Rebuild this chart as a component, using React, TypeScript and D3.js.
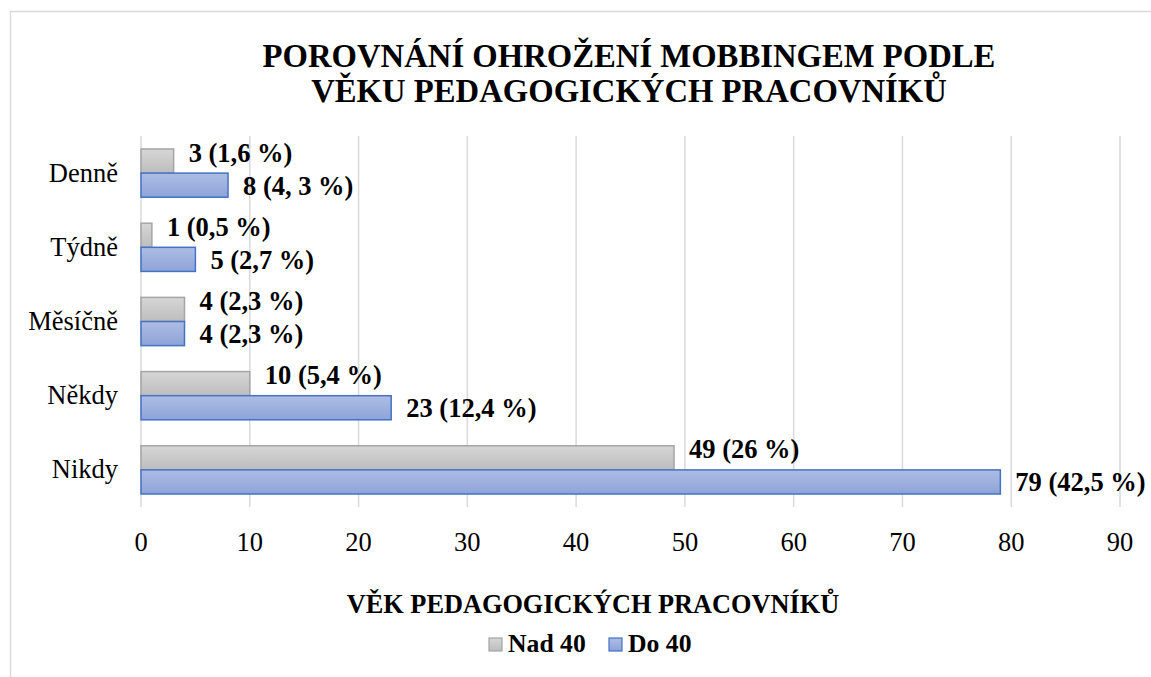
import React, { useRef, useEffect } from 'react';
import * as d3 from 'd3';

const categories = ['Denně', 'Týdně', 'Měsíčně', 'Někdy', 'Nikdy'];
const seriesNames = ['Nad 40', 'Do 40'];
const over40 = [3, 1, 4, 10, 49];
const under40 = [8, 5, 4, 23, 79];
const over40Labels = ['3 (1,6 %)', '1 (0,5 %)', '4 (2,3 %)', '10 (5,4 %)', '49 (26 %)'];
const under40Labels = ['8 (4, 3 %)', '5 (2,7 %)', '4 (2,3 %)', '23 (12,4 %)', '79 (42,5 %)'];
const xTicks = [0, 10, 20, 30, 40, 50, 60, 70, 80, 90];

const W = 1151;
const H = 677;
const FONT = '"Liberation Serif", "Times New Roman", serif';

const App = () => {
  const svgRef = useRef<SVGSVGElement | null>(null);

  useEffect(() => {
    const svg = d3.select(svgRef.current);
    svg.selectAll('*').remove();

    const margin = { top: 136, left: 141, right: 31, bottom: 170 };
    const plotW = W - margin.left - margin.right;
    const plotH = H - margin.top - margin.bottom;

    // gradients for the bars
    const defs = svg.append('defs');
    const grays = defs.append('linearGradient').attr('id', 'gGray').attr('x1', 0).attr('y1', 0).attr('x2', 0).attr('y2', 1);
    grays.append('stop').attr('offset', '0%').attr('stop-color', '#d6d6d6');
    grays.append('stop').attr('offset', '100%').attr('stop-color', '#bdbdbd');
    const blues = defs.append('linearGradient').attr('id', 'gBlue').attr('x1', 0).attr('y1', 0).attr('x2', 0).attr('y2', 1);
    blues.append('stop').attr('offset', '0%').attr('stop-color', '#adbde4');
    blues.append('stop').attr('offset', '100%').attr('stop-color', '#8ea3d8');

    // outer frame (cut off on right / bottom)
    svg.append('rect')
      .attr('x', 10.5).attr('y', 11.5)
      .attr('width', W + 20).attr('height', H + 20)
      .attr('fill', 'white')
      .attr('stroke', '#d9d9d9')
      .attr('stroke-width', 1.5);

    // title
    const title = svg.append('text')
      .attr('text-anchor', 'middle')
      .attr('font-family', FONT)
      .attr('font-weight', 'bold')
      .attr('font-size', 32.7)
      .attr('fill', '#000');
    title.append('tspan').attr('x', 629).attr('y', 67).text('POROVNÁNÍ OHROŽENÍ MOBBINGEM PODLE');
    title.append('tspan').attr('x', 629).attr('y', 102).text('VĚKU PEDAGOGICKÝCH PRACOVNÍKŮ');

    const x = d3.scaleLinear().domain([0, 90]).range([0, plotW]);
    const y = d3.scaleBand().domain(categories).range([0, plotH]).paddingInner(0.35).paddingOuter(0.175);
    const half = y.bandwidth() / 2;

    const g = svg.append('g').attr('transform', `translate(${margin.left}, ${margin.top})`);

    // gridlines
    g.selectAll('line.grid')
      .data(xTicks)
      .enter()
      .append('line')
      .attr('class', 'grid')
      .attr('x1', (d) => x(d))
      .attr('x2', (d) => x(d))
      .attr('y1', 0)
      .attr('y2', plotH)
      .attr('stroke', '#d9d9d9')
      .attr('stroke-width', 1.5);

    // tick labels
    g.selectAll('text.tick')
      .data(xTicks)
      .enter()
      .append('text')
      .attr('class', 'tick')
      .attr('x', (d) => x(d))
      .attr('y', plotH + 44)
      .attr('text-anchor', 'middle')
      .attr('font-family', FONT)
      .attr('font-size', 26.5)
      .attr('fill', '#000')
      .text((d) => d);

    // category labels
    g.selectAll('text.cat')
      .data(categories)
      .enter()
      .append('text')
      .attr('class', 'cat')
      .attr('x', -23)
      .attr('y', (d) => (y(d) as number) + half)
      .attr('dy', '0.32em')
      .attr('text-anchor', 'end')
      .attr('font-family', FONT)
      .attr('font-size', 26.5)
      .attr('fill', '#000')
      .text((d) => d);

    // gray bars (Nad 40)
    g.selectAll('rect.over')
      .data(over40)
      .enter()
      .append('rect')
      .attr('class', 'over')
      .attr('x', x(0))
      .attr('y', (d, i) => y(categories[i]) as number)
      .attr('width', (d) => x(d) - x(0))
      .attr('height', half)
      .attr('fill', 'url(#gGray)')
      .attr('stroke', '#a5a5a5')
      .attr('stroke-width', 1.5);

    // blue bars (Do 40)
    g.selectAll('rect.under')
      .data(under40)
      .enter()
      .append('rect')
      .attr('class', 'under')
      .attr('x', x(0))
      .attr('y', (d, i) => (y(categories[i]) as number) + half)
      .attr('width', (d) => x(d) - x(0))
      .attr('height', half)
      .attr('fill', 'url(#gBlue)')
      .attr('stroke', '#4472c4')
      .attr('stroke-width', 1.5);

    // data labels
    g.selectAll('text.lo')
      .data(over40)
      .enter()
      .append('text')
      .attr('class', 'lo')
      .attr('x', (d) => x(d) + 15)
      .attr('y', (d, i) => (y(categories[i]) as number) + half / 2 - 8)
      .attr('dy', '0.32em')
      .attr('font-family', FONT)
      .attr('font-weight', 'bold')
      .attr('font-size', 26.5)
      .attr('fill', '#000')
      .text((d, i) => over40Labels[i]);

    g.selectAll('text.lu')
      .data(under40)
      .enter()
      .append('text')
      .attr('class', 'lu')
      .attr('x', (d) => x(d) + 15)
      .attr('y', (d, i) => (y(categories[i]) as number) + half * 1.5 + 1)
      .attr('dy', '0.32em')
      .attr('font-family', FONT)
      .attr('font-weight', 'bold')
      .attr('font-size', 26.5)
      .attr('fill', '#000')
      .text((d, i) => under40Labels[i]);

    // axis title
    svg.append('text')
      .attr('x', 593)
      .attr('y', 613)
      .attr('text-anchor', 'middle')
      .attr('font-family', FONT)
      .attr('font-weight', 'bold')
      .attr('font-size', 26.3)
      .attr('fill', '#000')
      .text('VĚK PEDAGOGICKÝCH PRACOVNÍKŮ');

    // legend
    const legend = [
      { name: seriesNames[0], fill: 'url(#gGray)', stroke: '#a5a5a5', x: 489 },
      { name: seriesNames[1], fill: 'url(#gBlue)', stroke: '#4472c4', x: 609 },
    ];
    const lg = svg.append('g');
    lg.selectAll('rect')
      .data(legend)
      .enter()
      .append('rect')
      .attr('x', (d) => d.x)
      .attr('y', 638)
      .attr('width', 13)
      .attr('height', 13)
      .attr('fill', (d) => d.fill)
      .attr('stroke', (d) => d.stroke)
      .attr('stroke-width', 1.2);
    lg.selectAll('text')
      .data(legend)
      .enter()
      .append('text')
      .attr('x', (d) => d.x + 19)
      .attr('y', 652)
      .attr('font-family', FONT)
      .attr('font-weight', 'bold')
      .attr('font-size', 25.7)
      .attr('fill', '#000')
      .text((d) => d.name);
  }, []);

  return (
    <svg
      ref={svgRef}
      width={W}
      height={H}
      style={{ position: 'absolute', left: 0, top: 0, background: 'white' }}
    ></svg>
  );
};

export default App;
